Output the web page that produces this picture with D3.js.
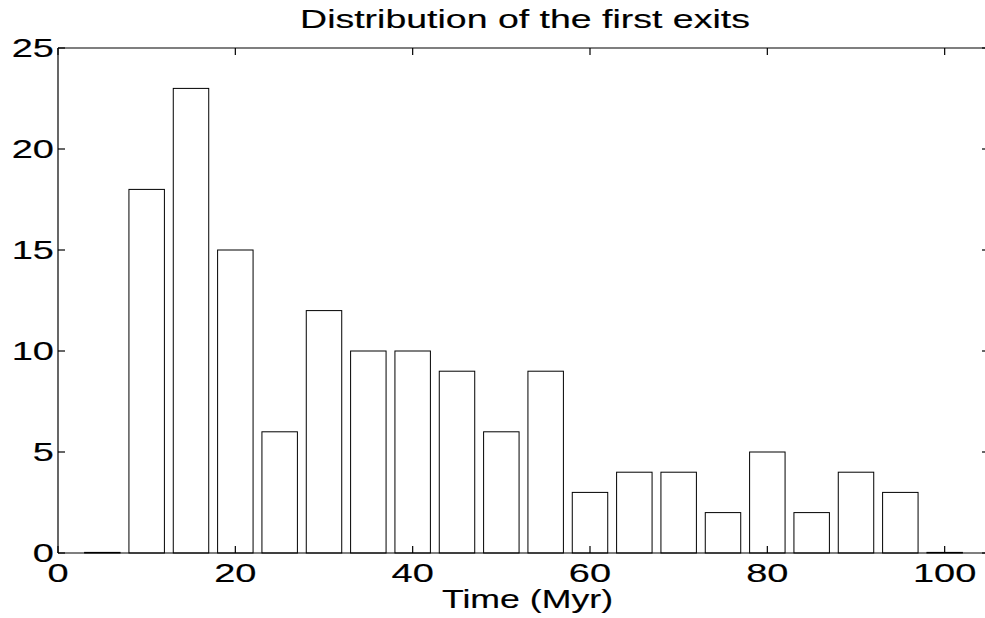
<!DOCTYPE html>
<html>
<head>
<meta charset="utf-8">
<script src="https://cdn.jsdelivr.net/npm/d3@7"></script>
<style>
  html, body { margin: 0; padding: 0; background: #fff; }
  svg { display: block; }
  text { font-family: "Liberation Sans", Arial, Helvetica, sans-serif; fill: #000; stroke: #000; stroke-width: 0.15px; }
</style>
</head>
<body>
<svg id="chart" width="985" height="618"></svg>
<script>
// Data
const binCenters = [5, 10, 15, 20, 25, 30, 35, 40, 45, 50, 55, 60, 65, 70, 75, 80, 85, 90, 95, 100];
const counts     = [0, 18, 23, 15, 6, 12, 10, 10, 9, 6, 9, 3, 4, 4, 2, 5, 2, 4, 3, 0];
const xTicks = [0, 20, 40, 60, 80, 100];
const yTicks = [0, 5, 10, 15, 20, 25];
const titleText = "Distribution of the first exits";
const xLabelText = "Time (Myr)";

(function () {
const svg = d3.select("#chart");
const mLeft = 58, mRight = 989, mTop = 48, mBottom = 553;

const x = d3.scaleLinear().domain([0, 105]).range([mLeft, mRight]);
const y = d3.scaleLinear().domain([0, 25]).range([mBottom, mTop]);
const barW = x(4) - x(0);
const tickLen = 7;

// Bars
svg.append("g").selectAll("rect")
  .data(binCenters.map((c, i) => ({c, v: counts[i]})))
  .join("rect")
  .attr("x", d => x(d.c) - barW / 2)
  .attr("y", d => Math.min(y(d.v), y(0) - 0.6))
  .attr("width", barW)
  .attr("height", d => Math.max(y(0) - y(d.v), 0.6))
  .attr("fill", "#fff")
  .attr("stroke", "#000")
  .attr("stroke-width", 1);

// Axes box
const ax = svg.append("g").attr("stroke", "#000").attr("stroke-width", 1.2).attr("fill", "none");
ax.append("line").attr("x1", mLeft).attr("x2", mRight).attr("y1", mBottom).attr("y2", mBottom);
ax.append("line").attr("x1", mLeft).attr("x2", mRight).attr("y1", mTop).attr("y2", mTop);
ax.append("line").attr("x1", mLeft).attr("x2", mLeft).attr("y1", mTop).attr("y2", mBottom);
ax.append("line").attr("x1", mRight).attr("x2", mRight).attr("y1", mTop).attr("y2", mBottom);

// X ticks (inward, bottom & top)
xTicks.forEach(t => {
  ax.append("line").attr("x1", x(t)).attr("x2", x(t)).attr("y1", mBottom).attr("y2", mBottom - tickLen);
  ax.append("line").attr("x1", x(t)).attr("x2", x(t)).attr("y1", mTop).attr("y2", mTop + tickLen);
});
// Y ticks (inward, left & right)
yTicks.forEach(t => {
  ax.append("line").attr("x1", mLeft).attr("x2", mLeft + tickLen).attr("y1", y(t)).attr("y2", y(t));
  ax.append("line").attr("x1", mRight).attr("x2", mRight - tickLen).attr("y1", y(t)).attr("y2", y(t));
});

const tickSX = 1.52, tickFS = 25;
// X tick labels
svg.append("g").selectAll("text")
  .data(xTicks).join("text")
  .attr("transform", d => `translate(${x(d)},582) scale(${tickSX},1)`)
  .attr("text-anchor", "middle")
  .style("font-size", tickFS + "px")
  .text(d => d);
// Y tick labels
svg.append("g").selectAll("text")
  .data(yTicks).join("text")
  .attr("transform", d => `translate(54,${y(d)}) scale(${tickSX},1)`)
  .attr("text-anchor", "end")
  .attr("dy", "0.36em")
  .style("font-size", tickFS + "px")
  .text(d => d);

// Title
svg.append("text")
  .attr("transform", `translate(525,28) scale(1.47,1)`)
  .attr("text-anchor", "middle")
  .style("font-size", "25.5px")
  .text(titleText);

// X label
svg.append("text")
  .attr("transform", `translate(527.5,608) scale(1.4,1)`)
  .attr("text-anchor", "middle")
  .style("font-size", "25.5px")
  .text(xLabelText);
})();
</script>
</body>
</html>
